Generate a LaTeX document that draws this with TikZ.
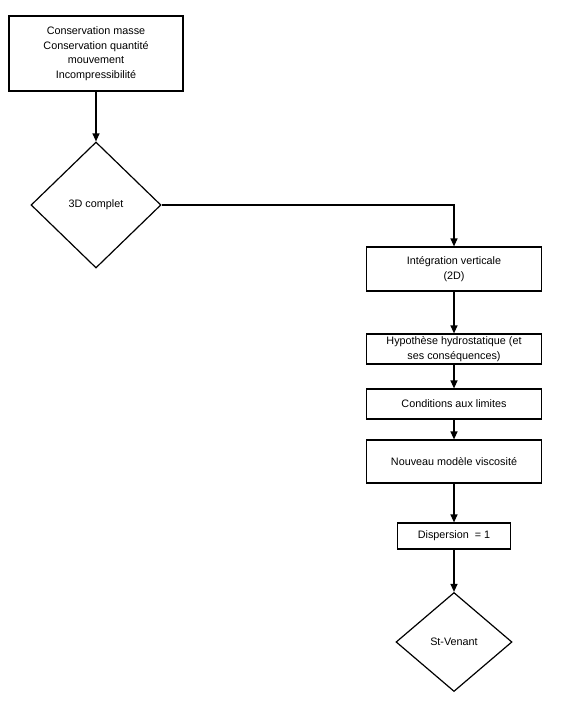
\documentclass[tikz,border=0pt]{standalone}
\usepackage{fontspec}
\setmainfont{Liberation Sans}
\usetikzlibrary{shapes.geometric,arrows.meta}
\begin{document}
\begin{tikzpicture}[x=1pt,y=-1pt,
  every node/.style={font=\fontsize{10.8}{14.5}\selectfont, align=center, inner sep=0pt},
  box/.style={draw, line width=1.2pt, rectangle},
  dia/.style={draw, line width=1.2pt, diamond, aspect=1},
  arr/.style={line width=1.2pt, -{Triangle[length=8pt,width=7pt]}}]
\useasboundingbox (0,0) rectangle (575,728);
\node[box, minimum width=174pt, minimum height=75pt] (b1) at (96,53.5) {Conservation masse\\Conservation quantité\\mouvement\\Incompressibilité};
\node[dia, minimum width=130pt, minimum height=126pt] (d1) at (96,205) {3D complet};
\node[box, minimum width=175pt, minimum height=44pt] (b2) at (454,269) {Intégration verticale\\(2D)};
\node[box, minimum width=175pt, minimum height=30pt] (b3) at (454,349) {Hypothèse hydrostatique (et\\ses conséquences)};
\node[box, minimum width=175pt, minimum height=30pt] (b4) at (454,404) {Conditions aux limites};
\node[box, minimum width=175pt, minimum height=43pt] (b5) at (454,461.5) {Nouveau modèle viscosité};
\node[box, minimum width=113pt, minimum height=26pt] (b6) at (454,536) {Dispersion~~= 1};
\node[dia, minimum width=116pt, minimum height=99pt] (d2) at (454,642) {St-Venant};
\draw[arr] (b1.south) -- (d1.north);
\draw[arr] (d1.east) -| (b2.north);
\draw[arr] (b2.south) -- (b3.north);
\draw[arr] (b3.south) -- (b4.north);
\draw[arr] (b4.south) -- (b5.north);
\draw[arr] (b5.south) -- (b6.north);
\draw[arr] (b6.south) -- (d2.north);
\end{tikzpicture}
\end{document}
